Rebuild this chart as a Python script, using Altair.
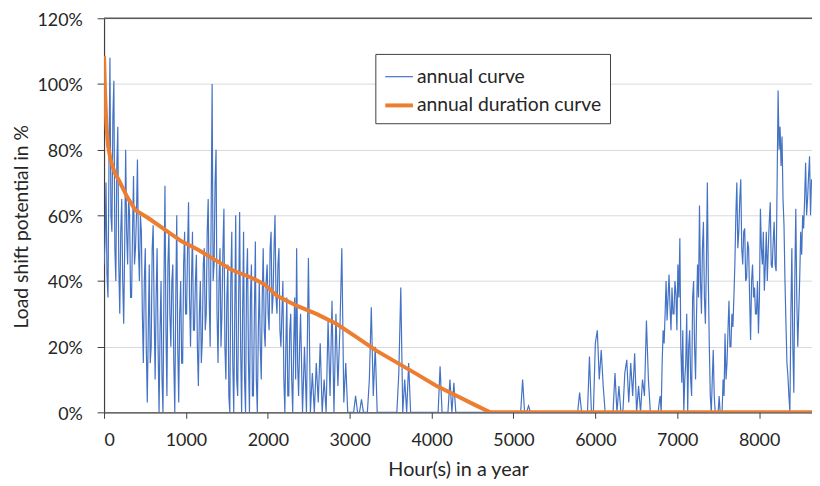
import altair as alt
import pandas as pd

# annual curve, in %, read in three stretches:
# hours 0-2388 every 12 h, hours 2400-6696 every 24 h, hours 6720-8640 every 12 h
annual_early = [
    45, 52, 70, 42, 35, 75, 108, 60, 55, 90,
    101, 50, 40, 75, 87, 45, 30, 55, 65, 40,
    27, 50, 80, 55, 45, 65, 60, 35, 35, 55,
    72, 45, 50, 60, 77, 50, 40, 60, 55, 30,
    15, 40, 50, 20, 3, 25, 45, 15, 20, 50,
    57, 30, 10, 35, 50, 20, 0, 25, 40, 10,
    0, 40, 69, 25, 5, 45, 55, 30, 20, 40,
    45, 15, 0, 35, 60, 20, 3, 30, 40, 15,
    15, 45, 55, 30, 30, 50, 64, 35, 20, 40,
    55, 25, 25, 40, 48, 20, 8, 30, 40, 15,
    22, 45, 50, 25, 30, 55, 65, 35, 20, 60,
    100, 40, 45, 70, 80, 30, 15, 40, 50, 20,
    30, 50, 62, 20, 10, 35, 45, 5, 0, 40,
    55, 15, 0, 30, 60, 10, 5, 35, 61, 20,
    0, 30, 55, 10, 0, 40, 50, 15, 0, 35,
    45, 5, 5, 30, 52, 10, 0, 25, 40, 20,
    10, 35, 50, 25, 20, 40, 45, 30, 25, 50,
    55, 30, 35, 50, 60, 35, 30, 45, 50, 25,
    20, 30, 40, 10, 0, 20, 35, 5, 5, 25,
    30, 10, 0, 20, 35, 10, 50, 15, 5, 20,
]
annual_middle = [
    30, 0, 20, 0, 47, 0, 12, 0, 15, 3,
    21, 0, 10, 0, 28, 5, 34, 0, 30, 8,
    25, 50, 3, 15, 0, 0, 0, 0, 5, 0,
    0, 4, 0, 0, 0, 10, 32, 5, 20, 0,
    0, 0, 0, 0, 0, 0, 0, 0, 0, 0,
    12, 38, 0, 10, 0, 15, 0, 0, 0, 0,
    0, 0, 0, 0, 0, 0, 0, 0, 0, 0,
    0, 14, 0, 0, 0, 0, 10, 0, 9, 0,
    0, 0, 0, 0, 0, 0, 0, 0, 0, 0,
    0, 0, 0, 0, 0, 0, 0, 0, 0, 0,
    0, 0, 0, 0, 0, 0, 0, 0, 0, 0,
    0, 0, 0, 10, 0, 0, 2, 0, 0, 0,
    0, 0, 0, 0, 0, 0, 0, 0, 0, 0,
    0, 0, 0, 0, 0, 0, 0, 0, 0, 0,
    0, 0, 6, 0, 0, 0, 0, 17, 0, 0,
    21, 25, 10, 19, 8, 0, 0, 0, 0, 0,
    12, 0, 8, 0, 0, 12, 16, 3, 15, 5,
    18, 0, 8, 0, 10, 5, 28, 10, 0, 0,
]
annual_late = [
    0, 0, 0, 0, 0, 3, 5, 0, 15, 25,
    21, 30, 40, 28, 35, 42, 32, 25, 38, 30,
    30, 40, 36, 25, 45, 35, 53, 20, 9, 25,
    0, 10, 15, 30, 0, 20, 25, 10, 5, 35,
    40, 20, 10, 30, 45, 35, 63, 40, 30, 50,
    58, 35, 27, 45, 70, 40, 20, 5, 0, 10,
    19, 5, 0, 0, 0, 0, 5, 0, 0, 0,
    10, 5, 24, 10, 15, 25, 34, 20, 20, 30,
    26, 35, 45, 60, 70, 50, 55, 65, 71, 50,
    45, 55, 56, 40, 41, 52, 50, 35, 22, 40,
    45, 35, 38, 30, 30, 40, 24, 35, 62, 50,
    45, 55, 37, 45, 55, 40, 50, 58, 64, 45,
    44, 52, 58, 45, 43, 70, 98, 80, 87, 75,
    84, 65, 57, 40, 27, 15, 11, 5, 0, 30,
    50, 20, 6, 40, 62, 35, 20, 30, 41, 55,
    48, 60, 56, 65, 76, 60, 65, 72, 78, 60,
    71,
]
annual_hours = ([12 * i for i in range(len(annual_early))]
                + [2400 + 24 * i for i in range(len(annual_middle))]
                + [6720 + 12 * i for i in range(len(annual_late))])
annual_values = annual_early + annual_middle + annual_late

# annual duration curve (sorted), in %
duration_hours = [0, 12, 28, 50, 81, 130, 181, 282, 383, 544, 746, 947, 1149,
                  1350, 1550, 1800, 1960, 2116, 2358, 2600, 2842, 3083, 3325,
                  3567, 3809, 4051, 4293, 4534, 4716, 8646]
duration_values = [108.5, 98, 87.8, 81, 76.7, 73, 70.7, 65.6, 61.6, 59.1, 55.6,
                   52.1, 49.5, 46.5, 43.5, 41, 39, 35.4, 32.4, 29.9, 26.9, 22.9,
                   18.8, 15.3, 11.8, 8.2, 5.2, 2.2, 0, 0]

series_names = ["annual curve", "annual duration curve"]
series_colors = ["#4472C4", "#ED7D31"]
series_widths = [1.2, 4]

y_ticks = [0, 20, 40, 60, 80, 100, 120]
x_ticks = [0, 1000, 2000, 3000, 4000, 5000, 6000, 7000, 8000]

FONT = "Lato"

df_a = pd.DataFrame({"hour": annual_hours, "value": annual_values, "series": series_names[0]})
df_d = pd.DataFrame({"hour": duration_hours, "value": duration_values, "series": series_names[1]})

x_enc = alt.X("hour:Q",
              scale=alt.Scale(domain=[0, 8646], nice=False),
              axis=alt.Axis(values=x_ticks, format="d", title="Hour(s) in a year", grid=False,
                            tickSize=6, labelPadding=13, titleY=64,
                            titleBaseline="alphabetic"))
y_enc = alt.Y("value:Q",
              scale=alt.Scale(domain=[0, 120], nice=False),
              axis=alt.Axis(values=y_ticks, labelExpr="datum.value + '%'",
                            title="Load shift potential in %", grid=True,
                            tickSize=7, labelPadding=15, labelOffset=2,
                            titleX=-83, titleY=210, titleBaseline="middle",
                            titleFontSize=19.5))
color_enc = alt.Color("series:N",
                      scale=alt.Scale(domain=series_names, range=series_colors),
                      legend=alt.Legend(title=None))
width_enc = alt.StrokeWidth("series:N",
                            scale=alt.Scale(domain=series_names, range=series_widths),
                            legend=alt.Legend(title=None))

top_rule = alt.Chart(pd.DataFrame({"v": [120]})).mark_rule(
    color="#595959", strokeWidth=1.5).encode(y=alt.Y("v:Q", scale=alt.Scale(domain=[0, 120])))

line_a = alt.Chart(df_a).mark_line(clip=True).encode(
    x=x_enc, y=y_enc, color=color_enc, strokeWidth=width_enc)
line_d = alt.Chart(df_d).mark_line(clip=True).encode(
    x=x_enc, y=y_enc, color=color_enc, strokeWidth=width_enc)

chart = alt.layer(top_rule, line_a, line_d).properties(
    width=715, height=398,
    autosize=alt.AutoSizeParams(type="none"),
    padding={"left": 97, "top": 8, "right": 0, "bottom": 72},
).configure_view(stroke=None).configure_axis(
    labelFont=FONT, titleFont=FONT, labelFontSize=18, titleFontSize=20,
    labelColor="#262626", titleColor="#262626", titleFontWeight="normal",
    domainColor="#404040", tickColor="#404040", domainWidth=1.2,
    gridColor="#d9d9d9", gridWidth=1,
).configure_legend(
    orient="none", legendX=274, legendY=36,
    strokeColor="#404040", fillColor="white", padding=8,
    labelFont=FONT, labelFontSize=19.5, labelColor="#262626", labelLimit=0,
    symbolType="stroke", symbolSize=784, rowPadding=3, labelOffset=2,
)

chart.save("out.html", embed_options={"renderer": "svg", "actions": False})
